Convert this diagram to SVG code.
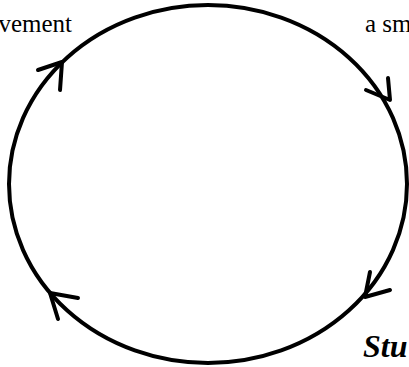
<svg xmlns="http://www.w3.org/2000/svg" width="409" height="367" viewBox="0 0 409 367">
<style>
.ring{fill:none;stroke:#000;stroke-width:4}
.head{fill:none;stroke:#000;stroke-width:4;stroke-linecap:round;stroke-linejoin:round}
.lbl{font-family:"Liberation Serif","Times New Roman",serif;font-size:25px;fill:#000}
.big{font-family:"Liberation Serif","Times New Roman",serif;font-size:32px;font-weight:bold;font-style:italic;fill:#000}
</style>
<rect width="409" height="367" fill="#fff"/>
<g id="connectors">
<ellipse class="ring" cx="208" cy="184" rx="199" ry="179"/>
<polyline class="head" points="38,70 62,62 60,90"/>
<polyline class="head" points="388,78 390,100 366,90"/>
<polyline class="head" points="370,272 365,297 390,290"/>
<polyline class="head" points="78,298 50,293 58,319"/>
</g>
<g id="label-left"><text class="lbl" x="72" y="32" text-anchor="end">vement</text></g>
<g id="label-right"><text class="lbl" x="365" y="32">a sm</text></g>
<g id="label-bottom"><text class="big" x="363" y="357">Stu</text></g>
</svg>
